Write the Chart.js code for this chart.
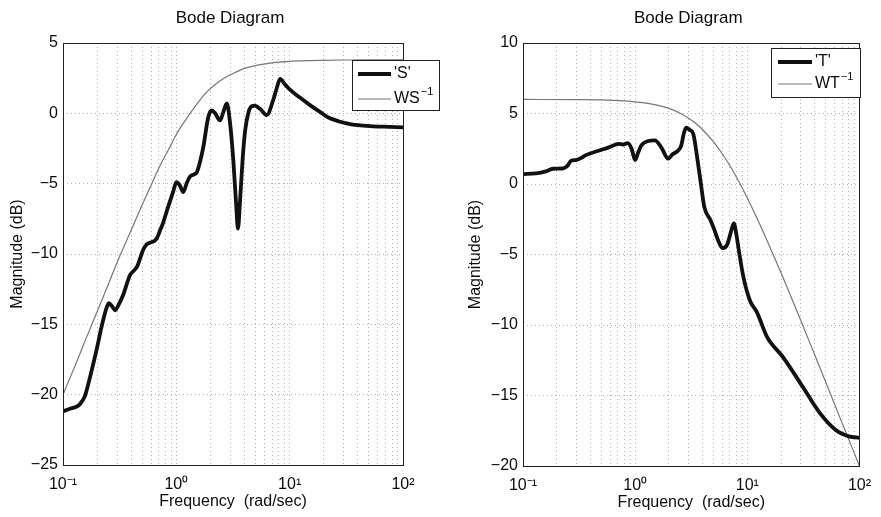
<!DOCTYPE html>
<html>
<head>
<meta charset="utf-8">
<title>Bode Diagram</title>
<script src="https://cdn.jsdelivr.net/npm/chart.js@4/dist/chart.umd.min.js"></script>
<style>
  body { margin: 0; background: #fff; width: 881px; height: 517px; position: relative; overflow: hidden; }
  .panel { position: absolute; top: 0; height: 517px; }
  #leftPanel { left: 0; width: 440px; }
  #rightPanel { left: 440px; width: 441px; }
</style>
</head>
<body>
<div class="panel" id="leftPanel"><canvas id="sChart" width="440" height="517"></canvas></div>
<div class="panel" id="rightPanel"><canvas id="tChart" width="441" height="517"></canvas></div>
<script>
// sensitivity 'S' and its bound WS^-1 (dB vs rad/sec)
var sFreq = [0.1, 0.115, 0.128, 0.14, 0.156, 0.175, 0.198, 0.22, 0.243, 0.255, 0.27, 0.288, 0.31, 0.34, 0.37, 0.39,
             0.42, 0.45, 0.48, 0.51, 0.55, 0.586, 0.63, 0.671, 0.72, 0.763, 0.85, 0.935, 1.0, 1.07, 1.153, 1.23,
             1.32, 1.42, 1.514, 1.6, 1.73, 1.91, 2.05, 2.2, 2.43, 2.6, 2.79, 2.97, 3.18, 3.36, 3.5, 3.65,
             3.85, 4.05, 4.34, 4.6, 4.93, 5.5, 6.28, 7.16, 7.7, 8.23, 9.0, 10.0, 12.4, 15, 18.5, 22,
             27.9, 35, 41.8, 55, 66.7, 100];
var sMag  = [-21.2, -21.0, -20.9, -20.7, -20.1, -18.6, -16.8, -15.1, -13.8, -13.5, -13.7, -14.0, -13.6, -12.9, -12.0, -11.5,
             -11.2, -10.9, -10.3, -9.7, -9.3, -9.2, -9.1, -8.9, -8.3, -7.8, -6.6, -5.6, -4.9, -5.1, -5.6, -5.0,
             -4.5, -4.35, -4.2, -3.6, -2.4, -0.3, 0.2, 0.0, -0.5, 0.1, 0.7, -0.6, -3.3, -6.3, -8.2, -6.2,
             -3.2, -1.2, 0.1, 0.5, 0.55, 0.3, -0.12, 0.95, 1.8, 2.45, 2.1, 1.7, 1.1, 0.6, 0.1, -0.3,
             -0.6, -0.78, -0.85, -0.92, -0.95, -1.0];
var wsFreq = [0.1, 0.13, 0.16, 0.2, 0.25, 0.3, 0.4, 0.5, 0.6, 0.7, 0.85, 1, 1.2, 1.5, 1.8, 2.2, 2.7, 3.3, 4, 5,
              6.5, 8, 10, 15, 20, 30, 50, 100];
var wsMag  = [-20.0, -17.8, -16.0, -14.1, -12.2, -10.6, -8.3, -6.5, -5.1, -3.9, -2.6, -1.5, -0.5, 0.6, 1.4, 2.05, 2.55, 2.9, 3.2, 3.4,
              3.55, 3.64, 3.7, 3.75, 3.77, 3.79, 3.8, 3.8];

// complementary sensitivity 'T' and its bound WT^-1
var tFreq = [0.1, 0.13, 0.16, 0.185, 0.226, 0.25, 0.268, 0.297, 0.33, 0.364, 0.446, 0.583, 0.714, 0.78, 0.86, 0.93,
             1.0, 1.06, 1.14, 1.31, 1.5, 1.71, 1.97, 2.15, 2.4, 2.57, 2.72, 2.85, 3.05, 3.3, 3.6, 3.86,
             4.13, 4.72, 5.06, 5.5, 6.0, 6.62, 7.2, 7.59, 8.0, 8.4, 9.29, 10.6, 12.2, 14.9, 20.9, 31.3,
             43.9, 61.5, 80.5, 100];
var tMag  = [0.7, 0.75, 0.9, 1.08, 1.1, 1.3, 1.65, 1.7, 1.85, 2.05, 2.3, 2.6, 2.85, 2.8, 2.9, 2.5,
             1.7, 2.2, 2.75, 3.05, 3.1, 2.6, 1.8, 2.1, 2.35, 2.7, 3.6, 4.0, 3.85, 3.55, 1.7, 0.0,
             -1.6, -2.6, -3.2, -4.0, -4.55, -4.3, -3.3, -2.8, -3.6, -4.7, -6.7, -8.3, -9.1, -10.8, -12.3, -14.4,
             -16.2, -17.45, -17.9, -18.0];
var wtFreq = [0.1, 0.3, 0.5, 0.8, 1, 1.3, 1.6, 2, 2.5, 3, 3.5, 4, 5, 6, 7, 8.5, 10, 12, 15, 20,
              25, 30, 40, 50, 70, 100];
var wtMag  = [6.0, 5.98, 5.96, 5.89, 5.83, 5.72, 5.58, 5.36, 5.03, 4.66, 4.27, 3.85, 2.99, 2.13, 1.29, 0.1, -0.99, -2.3, -4.0, -6.3,
              -8.15, -9.68, -12.13, -14.04, -16.94, -20.0];

// axes
var decadeTicks  = [0.1, 1, 10, 100];
var decadeLabels = ['10\u207B\u00B9', '10\u2070', '10\u00B9', '10\u00B2'];
var sRange = [-25, 5];
var tRange = [-20, 10];

var FONT = '"Liberation Sans", Arial, Helvetica, sans-serif';
var INK = '#0c0c0c';

function pts(f, m) {
  return f.map(function(x, i) { return {x: x, y: m[i]}; });
}

// 1..9 per decade, so every dotted grid line gets a tick
function gridFreqs() {
  var out = [];
  for (var d = 0; d < decadeTicks.length - 1; d++) {
    for (var k = 1; k < 10; k++) out.push(k * decadeTicks[d]);
  }
  out.push(decadeTicks[decadeTicks.length - 1]);
  return out;
}

function drawLabel(ctx, text, x, y) {
  var parts = text.split('^');
  ctx.font = '16px ' + FONT;
  ctx.textAlign = 'left';
  ctx.textBaseline = 'middle';
  ctx.fillText(parts[0], x, y);
  if (parts.length > 1) {
    var w = ctx.measureText(parts[0]).width;
    ctx.font = '11px ' + FONT;
    ctx.fillText(parts[1], x + w + 1, y - 7);
  }
}

// axes box, title and the boxed legend
var framePlugin = {
  id: 'frame',
  afterDraw: function(chart, args, opts) {
    var ctx = chart.ctx, a = chart.chartArea;
    ctx.save();
    ctx.strokeStyle = '#222';
    ctx.lineWidth = 1;
    ctx.strokeRect(Math.round(a.left) + 0.5, Math.round(a.top) + 0.5,
                   Math.round(a.right - a.left), Math.round(a.bottom - a.top));

    ctx.fillStyle = INK;
    ctx.font = '17px ' + FONT;
    ctx.textAlign = 'center';
    ctx.textBaseline = 'middle';
    ctx.fillText(opts.title, (a.left + a.right) / 2 - 3, 18);

    var b = opts.box;
    ctx.fillStyle = '#fff';
    ctx.fillRect(b[0], b[1], b[2], b[3]);
    ctx.strokeStyle = '#222';
    ctx.strokeRect(b[0] + 0.5, b[1] + 0.5, b[2], b[3]);
    chart.data.datasets.forEach(function(ds, i) {
      var y = opts.rows[i];
      ctx.strokeStyle = ds.borderColor;
      ctx.lineWidth = ds.borderWidth;
      ctx.beginPath();
      ctx.moveTo(opts.lineX[0], y);
      ctx.lineTo(opts.lineX[1], y);
      ctx.stroke();
      ctx.fillStyle = INK;
      drawLabel(ctx, ds.label, opts.textX, y);
    });
    ctx.restore();
  }
};

function makeChart(id, series, range, lay) {
  var grid = { color: '#b2b2b2', lineWidth: 1, drawTicks: false, borderDash: [1, 3] };
  return new Chart(document.getElementById(id), {
    type: 'line',
    data: { datasets: series },
    options: {
      responsive: false,
      animation: false,
      layout: { padding: { top: 43, right: lay.padRight, left: 0, bottom: 0 } },
      elements: { point: { radius: 0 }, line: { cubicInterpolationMode: 'monotone' } },
      plugins: {
        legend: { display: false },
        tooltip: { enabled: false },
        frame: lay.frame
      },
      scales: {
        x: {
          type: 'logarithmic',
          min: decadeTicks[0],
          max: decadeTicks[decadeTicks.length - 1],
          afterBuildTicks: function(scale) {
            scale.ticks = gridFreqs().map(function(v) { return {value: v}; });
          },
          afterFit: function(scale) { scale.height = lay.xHeight; },
          grid: grid,
          border: { display: false, dash: [1, 3] },
          ticks: {
            autoSkip: false,
            maxRotation: 0,
            padding: 10,
            color: INK,
            font: { family: FONT, size: 16 },
            callback: function(v) {
              for (var i = 0; i < decadeTicks.length; i++) {
                if (Math.abs(v - decadeTicks[i]) / decadeTicks[i] < 1e-6) return decadeLabels[i];
              }
              return '';
            }
          },
          title: {
            display: true,
            text: 'Frequency  (rad/sec)',
            color: INK,
            font: { family: FONT, size: 16 },
            padding: { top: 0, bottom: lay.xTitlePad }
          }
        },
        y: {
          min: range[0],
          max: range[1],
          afterFit: function(scale) { scale.width = lay.yWidth; },
          grid: grid,
          border: { display: false, dash: [1, 3] },
          ticks: {
            stepSize: 5,
            padding: 5,
            color: INK,
            font: { family: FONT, size: 16 },
            callback: function(v) { return String(v).replace('-', '\u2212'); }
          },
          title: {
            display: true,
            text: 'Magnitude (dB)',
            color: INK,
            font: { family: FONT, size: 16 },
            padding: { top: lay.yTitlePad, bottom: 0 }
          }
        }
      }
    },
    plugins: [framePlugin]
  });
}

function thick(label, f, m) {
  return { label: label, data: pts(f, m), borderColor: '#111', borderWidth: 3.8, fill: false };
}
function thin(label, f, m) {
  return { label: label, data: pts(f, m), borderColor: '#777', borderWidth: 1.2, fill: false };
}

makeChart('sChart', [thick("'S'", sFreq, sMag), thin('WS^\u22121', wsFreq, wsMag)], sRange, {
  padRight: 37, xHeight: 52, yWidth: 63, xTitlePad: 6, yTitlePad: 8,
  frame: { title: 'Bode Diagram', box: [352, 60, 87, 50], rows: [74, 99], lineX: [358, 391], textX: 394 }
});

makeChart('tChart', [thick("'T'", tFreq, tMag), thin('WT^\u22121', wtFreq, wtMag)], tRange, {
  padRight: 17, xHeight: 51, yWidth: 83, xTitlePad: 5, yTitlePad: 26,
  frame: { title: 'Bode Diagram', box: [331, 48, 89, 49], rows: [62, 84], lineX: [338, 372], textX: 375 }
});
</script>
</body>
</html>
